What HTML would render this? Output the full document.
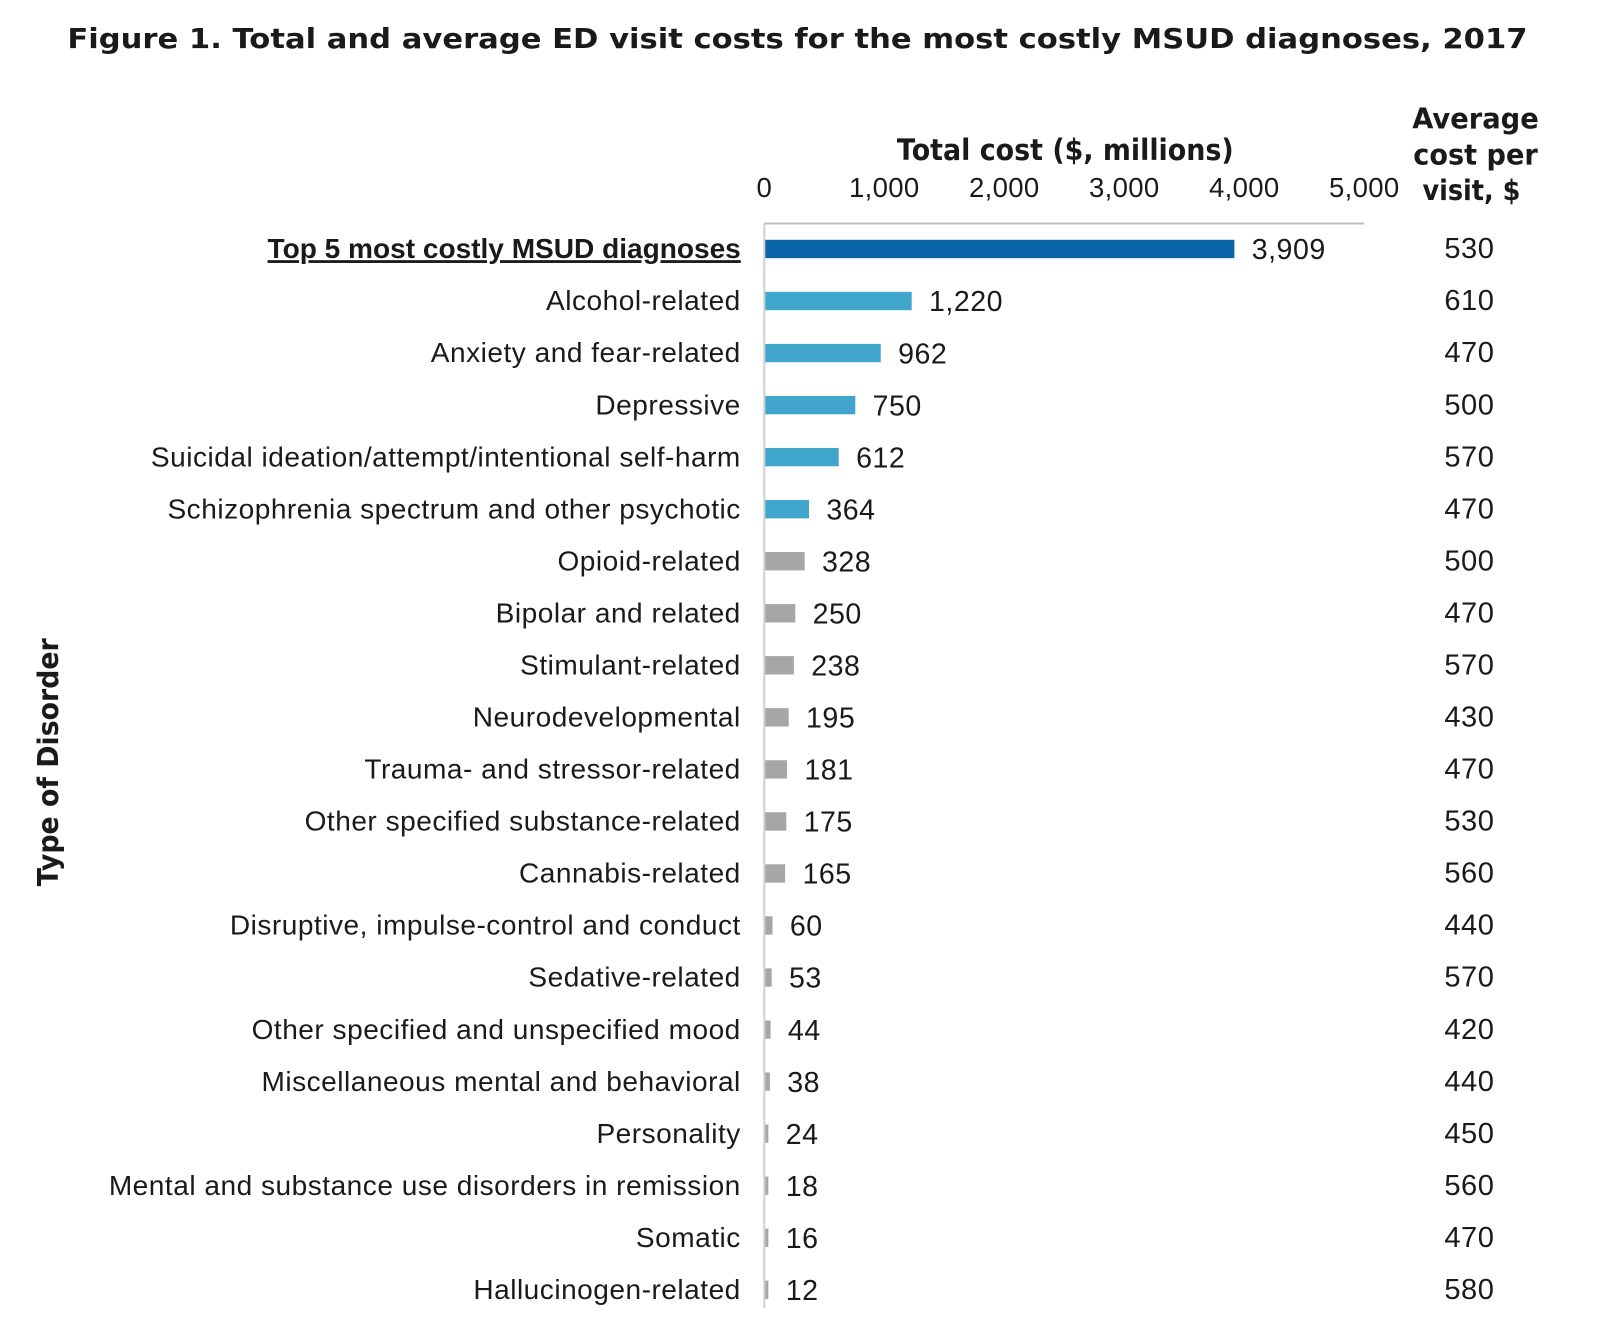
<!DOCTYPE html>
<html><head><meta charset="utf-8"><style>
body{margin:0;background:#fff;width:1600px;height:1334px;overflow:hidden}
svg text{font-family:"Liberation Sans",Arial,sans-serif;fill:#1a1a1a}
</style></head><body>
<svg id="chart" width="1600" height="1334" xmlns="http://www.w3.org/2000/svg">
<g transform="scale(1.0204)">
<text x="66" y="47" font-size="27" font-weight="bold" style="font-family:'DejaVu Sans',sans-serif" textLength="1431" lengthAdjust="spacingAndGlyphs">Figure 1. Total and average ED visit costs for the most costly MSUD diagnoses, 2017</text>
<text x="1044" y="157" font-size="29" font-weight="bold" text-anchor="middle" style="font-family:'DejaVu Sans',sans-serif" textLength="330" lengthAdjust="spacingAndGlyphs">Total cost ($, millions)</text>
<g font-size="28" font-weight="bold">
<text x="1446" y="126" text-anchor="middle" style="font-family:'DejaVu Sans',sans-serif" textLength="124" lengthAdjust="spacingAndGlyphs">Average</text>
<text x="1446" y="161" text-anchor="middle" style="font-family:'DejaVu Sans',sans-serif" textLength="122" lengthAdjust="spacingAndGlyphs">cost per</text>
<text x="1442" y="196" text-anchor="middle" style="font-family:'DejaVu Sans',sans-serif" textLength="96" lengthAdjust="spacingAndGlyphs">visit, $</text>
</g>
<text transform="translate(57,747) rotate(-90)" font-size="28" font-weight="bold" text-anchor="middle" style="font-family:'DejaVu Sans',sans-serif" textLength="243" lengthAdjust="spacingAndGlyphs">Type of Disorder</text>
<g id="plot"></g>
</g>
</svg>
<script>
const categories=["Top 5 most costly MSUD diagnoses","Alcohol-related","Anxiety and fear-related","Depressive","Suicidal ideation/attempt/intentional self-harm","Schizophrenia spectrum and other psychotic","Opioid-related","Bipolar and related","Stimulant-related","Neurodevelopmental","Trauma- and stressor-related","Other specified substance-related","Cannabis-related","Disruptive, impulse-control and conduct","Sedative-related","Other specified and unspecified mood","Miscellaneous mental and behavioral","Personality","Mental and substance use disorders in remission","Somatic","Hallucinogen-related"];
const totalCost=[3909,1220,962,750,612,364,328,250,238,195,181,175,165,60,53,44,38,24,18,16,12];
const totalLabels=["3,909","1,220","962","750","612","364","328","250","238","195","181","175","165","60","53","44","38","24","18","16","12"];
const avgCost=[530,610,470,500,570,470,500,470,570,430,470,530,560,440,570,420,440,450,560,470,580];
const ticks=[0,1000,2000,3000,4000,5000];
const tickLabels=["0","1,000","2,000","3,000","4,000","5,000"];
const NS="http://www.w3.org/2000/svg";
const g=document.getElementById('plot');
const x0=749,x1=1337,xmax=5000;
const xs=v=>x0+(x1-x0)*v/xmax;
const ys=i=>244+i*51;
function mk(t,a){const e=document.createElementNS(NS,t);for(const k in a)e.setAttribute(k,a[k]);g.appendChild(e);return e;}
ticks.forEach((t,i)=>{const e=mk('text',{x:xs(t),y:193,'font-size':27,'text-anchor':'middle','letter-spacing':'0.3'});e.textContent=tickLabels[i];

});
const ax=mk('line',{x1:x0,y1:219,x2:x1,y2:219,stroke:'#bfbfbf','stroke-width':2});


const ay=mk('line',{x1:x0,y1:219,x2:x0,y2:1282,stroke:'#d0d0d0','stroke-width':2});


categories.forEach((c,i)=>{
 const y=ys(i);
 const col=i===0?'#0a64a8':(i<=5?'#41a6cb':'#a6a6a6');
 const lb=mk('text',{x:726,y:y+9,'font-size':27.5,'text-anchor':'end','letter-spacing':'0.5'});
 lb.textContent=c;
 if(i===0){lb.setAttribute('font-weight','bold');lb.setAttribute('text-decoration','underline');lb.setAttribute('letter-spacing','0');}
 
 
 const w=Math.max(xs(totalCost[i])-x0,3);
 const r=mk('rect',{x:x0+1,y:y-9,width:w,height:18,fill:col});
 
 
 const v=mk('text',{x:x0+1+w+17,y:y+10,'font-size':28,'letter-spacing':'0.5'});
 v.textContent=totalLabels[i];
 
 
 const a=mk('text',{x:1440,y:y+9,'font-size':28.5,'text-anchor':'middle','letter-spacing':'0.5'});
 a.textContent=avgCost[i];
 
 
});
</script>
</body></html>
